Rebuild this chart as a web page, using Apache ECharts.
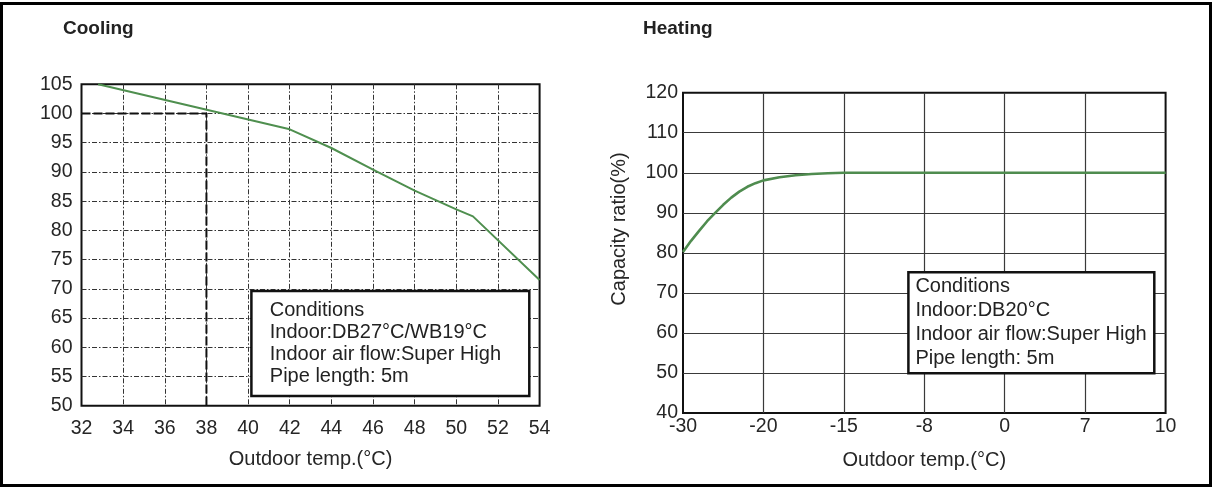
<!DOCTYPE html>
<html><head><meta charset="utf-8">
<script src="https://cdn.jsdelivr.net/npm/echarts@6/dist/echarts.min.js"></script>
<style>html,body{margin:0;padding:0;background:#fff}#c{width:1212px;height:488px}</style>
</head><body><div id="c"></div>
<script>
// ---- data ----
const coolTitle = 'Cooling';
const heatTitle = 'Heating';
const coolTemp = [32.8, 42, 44, 46, 48, 50, 50.8, 54];
const coolCap  = [105, 97.3, 94.1, 90.4, 86.8, 83.6, 82.4, 71.5];
const coolRefTemp = 38;
const coolRefCap = 100;
const heatTicks = [-30, -20, -15, -8, 0, 7, 10];
const heatTemp = [-30, -29, -28, -27, -26, -25, -24, -23, -22, -21, -20, -19, -18, -17, -16, -15, -8, 0, 7, 10];
const heatCap  = [80.2, 83.0, 85.5, 87.9, 90.0, 92.0, 93.8, 95.3, 96.5, 97.4, 98.1, 98.9, 99.4, 99.7, 99.9, 100, 100, 100, 100, 100];
const coolConditions = ['Conditions', 'Indoor:DB27°C/WB19°C', 'Indoor air flow:Super High', 'Pipe length: 5m'];
const heatConditions = ['Conditions', 'Indoor:DB20°C', 'Indoor air flow:Super High', 'Pipe length: 5m'];
const xName = 'Outdoor temp.(°C)';
const heatYName = 'Capacity ratio(%)';

// heating x axis is evenly spaced by tick label, so map temperatures piecewise onto tick positions
function heatPos(t) {
  for (let i = 0; i < heatTicks.length - 1; i++) {
    if (t <= heatTicks[i + 1]) return i + (t - heatTicks[i]) / (heatTicks[i + 1] - heatTicks[i]);
  }
  return heatTicks.length - 1;
}

const FONT = "'Liberation Sans', Arial, sans-serif";
const chart = echarts.init(document.getElementById('c'));
const coolX = [32, 54], coolY = [50, 105];
const labelStyle = { fontFamily: FONT, fontSize: 19.5, color: '#262626' };
const nameStyle = { fontFamily: FONT, fontSize: 20, color: '#262626' };

chart.setOption({
  animation: false,
  textStyle: { fontFamily: FONT },
  title: [
    { text: coolTitle, left: 63, top: 19, padding: 0, textStyle: { fontFamily: FONT, fontSize: 19, fontWeight: 'bold', color: '#222' } },
    { text: heatTitle, left: 643, top: 19, padding: 0, textStyle: { fontFamily: FONT, fontSize: 19, fontWeight: 'bold', color: '#222' } }
  ],
  grid: [
    { left: 81.5, top: 84.3, width: 458.1, height: 321.4, show: true, borderColor: '#111', borderWidth: 2, backgroundColor: 'transparent' },
    { left: 683, top: 92.7, width: 482.6, height: 320.3, show: true, borderColor: '#111', borderWidth: 2, backgroundColor: 'transparent' }
  ],
  xAxis: [
    { gridIndex: 0, type: 'value', min: coolX[0], max: coolX[1], interval: 2,
      axisLine: { show: false }, axisTick: { show: false },
      axisLabel: Object.assign({ margin: 13 }, labelStyle),
      splitLine: { show: true, showMinLine: false, showMaxLine: false, lineStyle: { color: '#333', width: 1, type: [5, 2, 1.5, 2] } },
      name: xName, nameLocation: 'middle', nameGap: 44, nameTextStyle: nameStyle },
    { gridIndex: 1, type: 'value', min: 0, max: heatTicks.length - 1, interval: 1,
      axisLine: { show: false }, axisTick: { show: false },
      axisLabel: Object.assign({ margin: 4, formatter: v => String(heatTicks[Math.round(v)]) }, labelStyle),
      splitLine: { show: true, showMinLine: false, showMaxLine: false, lineStyle: { color: '#3a3a3a', width: 1.2 } },
      name: xName, nameLocation: 'middle', nameGap: 37, nameTextStyle: nameStyle }
  ],
  yAxis: [
    { gridIndex: 0, type: 'value', min: coolY[0], max: coolY[1], interval: 5,
      axisLine: { show: false }, axisTick: { show: false },
      axisLabel: Object.assign({ margin: 9 }, labelStyle),
      splitLine: { show: true, showMinLine: false, showMaxLine: false, lineStyle: { color: '#333', width: 1, type: [5, 2, 1.5, 2] } } },
    { gridIndex: 1, type: 'value', min: 40, max: 120, interval: 10,
      axisLine: { show: false }, axisTick: { show: false },
      axisLabel: Object.assign({ margin: 5 }, labelStyle),
      splitLine: { show: true, showMinLine: false, showMaxLine: false, lineStyle: { color: '#3a3a3a', width: 1.2 } } }
  ],
  series: [
    { type: 'line', xAxisIndex: 0, yAxisIndex: 0, symbol: 'none',
      data: [[coolX[0], coolRefCap], [coolRefTemp, coolRefCap], [coolRefTemp, coolY[0]]],
      lineStyle: { color: '#111', width: 2, type: [9, 3] }, z: 3 },
    { type: 'line', xAxisIndex: 0, yAxisIndex: 0, symbol: 'none',
      data: coolTemp.map((t, i) => [t, coolCap[i]]),
      lineStyle: { color: '#4f8f4f', width: 2 }, z: 4 },
    { type: 'line', xAxisIndex: 1, yAxisIndex: 1, symbol: 'none', smooth: false,
      data: heatTemp.map((t, i) => [heatPos(t), heatCap[i]]),
      lineStyle: { color: '#4f8c4f', width: 2.6, join: 'round' }, z: 4 }
  ],
  graphic: [
    { type: 'rect', shape: { x: 1.5, y: 3.5, width: 1209, height: 482 }, style: { fill: 'none', stroke: '#000', lineWidth: 3 }, z: 100 },
    { type: 'rect', shape: { x: 251.4, y: 291, width: 277.9, height: 105 }, style: { fill: '#fff', stroke: '#111', lineWidth: 2.5 }, z: 50 },
    { type: 'text', x: 269.8, y: 299.3, style: { text: coolConditions.join('\n'), font: '20px ' + FONT, fill: '#222', lineHeight: 22, textVerticalAlign: 'top' }, z: 51 },
    { type: 'rect', shape: { x: 908.4, y: 272.3, width: 245.9, height: 101 }, style: { fill: '#fff', stroke: '#111', lineWidth: 2.5 }, z: 50 },
    { type: 'text', x: 915.4, y: 274.7, style: { text: heatConditions.join('\n'), font: '20px ' + FONT, fill: '#222', lineHeight: 24, textVerticalAlign: 'top' }, z: 51 },
    { type: 'text', x: 619, y: 229, rotation: Math.PI / 2, style: { text: heatYName, font: '20px ' + FONT, fill: '#262626', textAlign: 'center', textVerticalAlign: 'middle' }, z: 51 }
  ]
});
</script>
</body></html>
